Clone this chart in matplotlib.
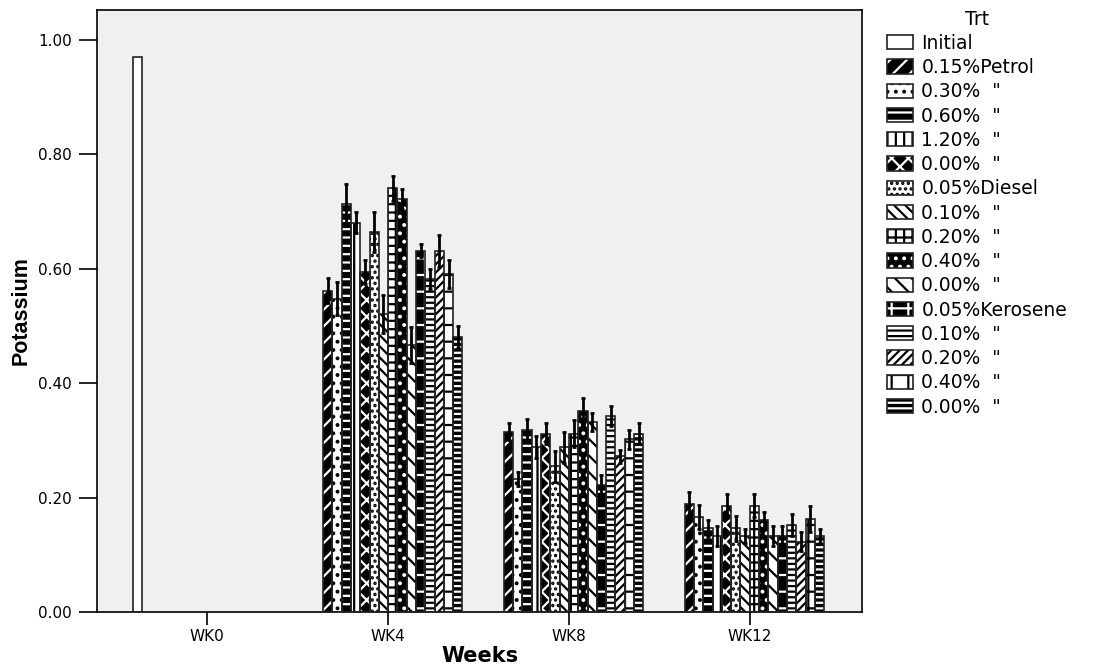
import numpy as np
import matplotlib.pyplot as plt
import matplotlib.patches as mpatches

plt.rcParams['font.family'] = ['DejaVu Sans']
plt.rcParams['hatch.linewidth'] = 1.6

weeks = ["WK0", "WK4", "WK8", "WK12"]
treatments = ["Initial", "0.15%Petrol", '0.30%  "', '0.60%  "', '1.20%  "',
              '0.00%  "', "0.05%Diesel", '0.10%  "', '0.20%  "', '0.40%  "',
              '0.00%  "', "0.05%Kerosene", '0.10%  "', '0.20%  "', '0.40%  "',
              '0.00%  "']

# Initial soil value is only measured at WK0
initial_wk0 = 0.97

# treated soils (15 treatments, order as in `treatments[1:]`)
wk4_mean = [0.562, 0.548, 0.714, 0.681, 0.594, 0.664, 0.521, 0.741, 0.722,
            0.467, 0.632, 0.582, 0.632, 0.591, 0.481]
wk4_err = [0.022, 0.029, 0.035, 0.018, 0.021, 0.035, 0.033, 0.022, 0.017,
           0.032, 0.011, 0.018, 0.028, 0.024, 0.019]
wk8_mean = [0.315, 0.232, 0.318, 0.289, 0.312, 0.255, 0.288, 0.312, 0.352,
            0.332, 0.222, 0.343, 0.272, 0.302, 0.312]
wk8_err = [0.015, 0.012, 0.019, 0.019, 0.018, 0.027, 0.027, 0.024, 0.023,
           0.016, 0.018, 0.017, 0.012, 0.017, 0.018]
wk12_mean = [0.189, 0.166, 0.146, 0.133, 0.186, 0.146, 0.133, 0.186, 0.160,
             0.133, 0.133, 0.152, 0.123, 0.163, 0.133]
wk12_err = [0.021, 0.021, 0.015, 0.017, 0.021, 0.022, 0.012, 0.020, 0.014,
            0.017, 0.017, 0.019, 0.017, 0.023, 0.012]

# fill style per treatment: (face colour, hatch colour, hatch)
styles = [
    ("white", "black", None),
    ("black", "white", "//"),
    ("white", "black", ".."),
    ("black", "white", "--"),
    ("white", "black", "||"),
    ("black", "white", "xx"),
    ("white", "black", "..."),
    ("white", "black", "\\\\\\"),
    ("white", "black", "++"),
    ("black", "white", ".."),
    ("white", "black", "\\\\"),
    ("black", "white", "+"),
    ("white", "black", "---"),
    ("white", "black", "////"),
    ("white", "black", "+"),
    ("black", "white", "---"),
]
outline = "#222222"

n_slots = len(treatments)
slot_w = 0.0514

fig = plt.figure(figsize=(11.06, 6.70), dpi=100)
ax = fig.add_axes([0.0877, 0.0866, 0.6916, 0.8984])
ax.set_facecolor("#f0f0f0")


def draw_bar(x, h, style):
    face, hcol, hatch = style
    ax.bar(x, h, width=slot_w, facecolor=face, edgecolor=hcol, hatch=hatch,
           linewidth=0, zorder=2)
    ax.bar(x, h, width=slot_w, fill=False, edgecolor=outline, linewidth=1.2,
           zorder=3)


def slot_x(week_idx, slot):
    return week_idx - n_slots / 2 * slot_w + (slot + 0.5) * slot_w


draw_bar(slot_x(0, 0), initial_wk0, styles[0])

treated = [(1, wk4_mean, wk4_err), (2, wk8_mean, wk8_err), (3, wk12_mean, wk12_err)]
for wi, means, errs in treated:
    xs = [slot_x(wi, k + 1) for k in range(len(means))]
    for k, (x, m) in enumerate(zip(xs, means)):
        draw_bar(x, m, styles[k + 1])
    ax.errorbar(xs, means, yerr=errs, fmt="none", ecolor="black",
                elinewidth=2.0, capsize=1.2, capthick=2, zorder=4)

ax.set_xlim(-0.61, 3.62)
ax.set_ylim(0, 1.0525)
ax.set_xticks(range(len(weeks)))
ax.set_xticklabels(weeks, fontsize=11)
ax.set_yticks(np.arange(0, 1.01, 0.2))
ax.set_yticklabels([f"{v:.2f}" for v in np.arange(0, 1.01, 0.2)], fontsize=11)
ax.tick_params(axis="x", direction="out", length=9, width=1.2, pad=3)
ax.tick_params(axis="y", direction="out", length=13, width=1.2, pad=5)
for s in ax.spines.values():
    s.set_linewidth(1.2)

ax.set_xlabel("Weeks", fontsize=15, fontweight="bold", labelpad=2)
ax.set_ylabel("Potassium", fontsize=15.5, fontweight="bold",
              family=["Liberation Sans", "DejaVu Sans"])
ax.yaxis.set_label_coords(-0.086, 0.5)

handles = []
for face, hcol, hatch in styles:
    fill = mpatches.Patch(facecolor=face, edgecolor=hcol, hatch=hatch, linewidth=0)
    edge = mpatches.Patch(fill=False, edgecolor=outline, linewidth=1.2)
    handles.append((fill, edge))

leg = fig.legend(handles, treatments, title="Trt", loc="upper left",
                 bbox_to_anchor=(0.795, 0.997), frameon=False, fontsize=13.5,
                 title_fontsize=13.5, handlelength=1.39, handleheight=0.8,
                 handletextpad=0.45, labelspacing=0.28, borderaxespad=0,
                 borderpad=0.4)

fig.savefig("out.png", dpi=100)
